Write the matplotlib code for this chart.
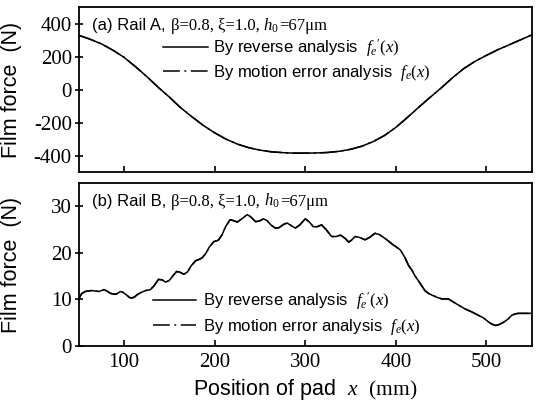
import matplotlib
matplotlib.use("Agg")
import matplotlib.pyplot as plt
from matplotlib.offsetbox import TextArea, HPacker, AnchoredOffsetbox

plt.rcParams['font.family'] = ['Liberation Sans', 'DejaVu Sans']
plt.rcParams['mathtext.fontset'] = 'custom'
plt.rcParams['mathtext.rm'] = 'Liberation Serif'
plt.rcParams['mathtext.it'] = 'Liberation Serif:italic'
plt.rcParams['mathtext.bf'] = 'Liberation Serif:bold'
plt.rcParams['mathtext.sf'] = 'Liberation Sans'
plt.rcParams['axes.unicode_minus'] = False

# (a) rail A, every 12.5 mm
x_a = [50, 62.5, 75, 87.5, 100, 112.5, 125, 137.5, 150, 162.5, 175, 187.5,
       200, 212.5, 225, 237.5, 250, 262.5, 275, 287.5, 300, 312.5, 325,
       337.5, 350, 362.5, 375, 387.5, 400, 412.5, 425, 437.5, 450, 462.5,
       475, 487.5, 500, 512.5, 525, 537.5, 550]
force_a_rev = [330, 306, 278, 240, 196, 140, 80, 15, -45, -110, -165, -217,
               -262, -300, -330, -352, -367, -377, -382, -385, -385, -384,
               -381, -374, -362, -343, -315, -278, -229, -170, -108, -48,
               10, 72, 128, 172, 208, 242, 272, 302, 332]
# the two curves lie on top of each other in the picture
force_a_mot = list(force_a_rev)

# (b) rail B, wavy curve read point by point
x_b = [50, 53, 57, 64, 68, 72, 75, 78, 81, 85, 89, 92, 96, 99, 103, 106,
       109, 112, 115, 120, 124, 129, 133, 138, 142, 146, 150, 154, 158,
       162, 166, 170, 174, 179, 183, 186, 190, 194, 199, 204, 208, 212,
       217, 221, 225, 230, 236, 240, 245, 249, 254, 258, 262, 267, 271,
       276, 280, 284, 289, 294, 300, 304, 309, 313, 318, 323, 329, 334,
       339, 344, 348, 351, 355, 360, 366, 371, 377, 382, 388, 392, 397,
       401, 405, 410, 414, 418, 421, 427, 432, 436, 440, 446, 451, 455,
       458, 463, 469, 476, 484, 490, 497, 502, 506, 510, 514, 519, 524,
       528, 532, 535, 550]
force_b_rev = [10.1, 11.2, 11.7, 11.9, 11.8, 11.7, 11.9, 12.1, 11.8, 11.3,
               11.1, 11.2, 11.7, 11.5, 10.9, 10.4, 10.3, 10.6, 11.1, 11.6,
               11.9, 12.1, 12.9, 14.3, 14.2, 13.7, 14.1, 15.1, 16.0, 15.8,
               15.4, 15.9, 17.2, 18.3, 18.6, 18.9, 19.8, 21.2, 22.4, 22.7,
               23.8, 25.6, 27.1, 26.9, 26.6, 27.3, 28.2, 27.7, 26.7, 26.8,
               27.3, 26.9, 26.0, 25.3, 25.4, 26.1, 26.4, 25.9, 25.3, 26.0,
               27.3, 26.7, 25.6, 25.6, 26.0, 25.0, 23.5, 23.5, 23.8, 23.1,
               22.3, 22.7, 23.5, 23.3, 22.8, 23.3, 24.2, 23.9, 23.1, 22.5,
               21.7, 21.2, 20.6, 19.0, 17.3, 16.2, 15.1, 13.4, 11.9, 11.3,
               10.9, 10.4, 10.1, 10.1, 10.1, 9.5, 8.8, 8.0, 7.3, 6.7, 6.0,
               5.2, 4.7, 4.4, 4.6, 5.1, 5.8, 6.6, 6.9, 7.0, 7.0]
force_b_mot = list(force_b_rev)

x_ticks = [100, 200, 300, 400, 500]
y_ticks_a = [-400, -200, 0, 200, 400]
y_ticks_b = [0, 10, 20, 30]

lab_rev = "By reverse analysis  $f_e{}'(x)$"
lab_mot = "By motion error analysis  $f_e(x)$"

fig = plt.figure(figsize=(5.36, 4.03), dpi=100)
ax1 = fig.add_axes([0.147, 0.573, 0.845, 0.409])
ax2 = fig.add_axes([0.147, 0.1415, 0.845, 0.4045])

dashdot = (0, (11, 3, 1.2, 3))

for ax, xs, yr, ym in [(ax1, x_a, force_a_rev, force_a_mot),
                       (ax2, x_b, force_b_rev, force_b_mot)]:
    ax.plot(xs, yr, color='black', lw=1.1, label=lab_rev)
    ax.plot(xs, ym, color='black', lw=1.1, ls=dashdot, label=lab_mot)
    ax.set_xlim(50, 550)
    ax.set_xticks(x_ticks)
    for s in ax.spines.values():
        s.set_linewidth(1.3)
    ax.tick_params(axis='x', direction='in', length=4, width=1.2,
                   labelsize=15, labelfontfamily='Liberation Serif', pad=5)
    ax.tick_params(axis='y', direction='inout', length=6, width=1.2,
                   labelsize=15, labelfontfamily='Liberation Serif', pad=2)
    ax.set_ylabel("Film force  (N)", fontsize=15.5)
    ax.yaxis.set_label_coords(-0.125, 0.5)

ax1.set_ylim(-500, 500)
ax1.set_yticks(y_ticks_a)
ax1.tick_params(axis='x', labelbottom=False)

ax2.set_ylim(0, 35)
ax2.set_yticks(y_ticks_b)
ax2.set_xlabel("Position of pad  $x$  $\\mathrm{(mm)}$", fontsize=15.5, labelpad=4)

ax1.legend(loc='upper left', bbox_to_anchor=(0.185, 0.82), frameon=False,
           fontsize=12, handlelength=2.7, handletextpad=0.35,
           labelspacing=0.25, borderpad=0, borderaxespad=0)
ax2.legend(loc='upper left', bbox_to_anchor=(0.163, 0.345), frameon=False,
           fontsize=12, handlelength=2.6, handletextpad=0.45,
           labelspacing=0.3, borderpad=0, borderaxespad=0)


def rail_note(ax, tag, y):
    sans = dict(fontsize=12, family='Liberation Sans')
    serif = dict(fontsize=12, family='Liberation Serif')
    parts = [TextArea(tag, textprops=sans),
             TextArea("\u03b2=0.8, \u03be=1.0, ", textprops=serif),
             TextArea("$h_0$", textprops=serif),
             TextArea("=67\u03bcm", textprops=serif)]
    box = HPacker(children=parts, align="baseline", pad=0, sep=0)
    anch = AnchoredOffsetbox(loc='center left', child=box, frameon=False,
                             bbox_to_anchor=(0.03, y),
                             bbox_transform=ax.transAxes, pad=0, borderpad=0)
    ax.add_artist(anch)


rail_note(ax1, "(a) Rail A, ", 0.89)
rail_note(ax2, "(b) Rail B, ", 0.89)

fig.savefig("out.png", dpi=100)
